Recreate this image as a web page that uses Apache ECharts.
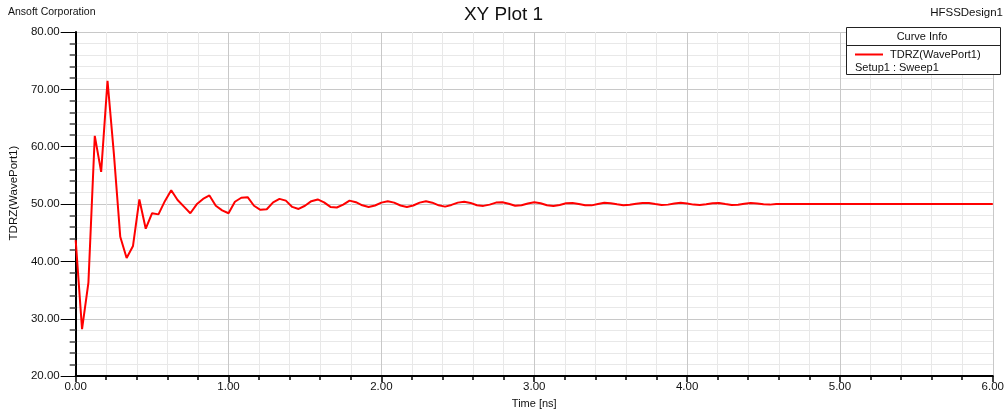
<!DOCTYPE html>
<html>
<head>
<meta charset="utf-8">
<title>XY Plot 1</title>
<script src="https://cdn.jsdelivr.net/npm/echarts@6/dist/echarts.min.js"></script>
<style>
  html, body { margin: 0; padding: 0; background: #fff; overflow: hidden; }
  #chart { width: 1007px; height: 414px; }
</style>
</head>
<body>
<div id="chart"></div>
<script>
// TDR impedance trace, sampled every 1/24 ns from 0 to 6 ns
const seriesName = 'TDRZ(WavePort1)';
const sweepName = 'Setup1 : Sweep1';
const timeStepNs = 1 / 24;
const tdrz = [
  43.7, 28.2, 36.3, 61.9, 55.6, 71.5, 58.75, 44.3, 40.6, 42.7,
  50.8, 45.7, 48.4, 48.2, 50.5, 52.4, 50.7, 49.55, 48.4, 49.95,
  50.9, 51.5, 49.7, 48.9, 48.4, 50.4, 51.1, 51.2, 49.7, 49.0,
  49.1, 50.3, 50.9, 50.6, 49.5, 49.15, 49.7, 50.5, 50.8, 50.3,
  49.5, 49.4, 49.9, 50.6, 50.33, 49.78, 49.5, 49.75, 50.25, 50.5,
  50.25, 49.75, 49.5, 49.75, 50.25, 50.5, 50.24, 49.78, 49.55, 49.85,
  50.25, 50.4, 50.2, 49.8, 49.68, 49.9, 50.25, 50.32, 50.05, 49.7,
  49.8, 50.1, 50.3, 50.15, 49.8, 49.66, 49.85, 50.15, 50.2, 50.0,
  49.78, 49.77, 50.0, 50.22, 50.15, 49.95, 49.8, 49.88, 50.05, 50.2,
  50.2, 50.0, 49.83, 49.9, 50.1, 50.23, 50.1, 49.9, 49.84, 49.95,
  50.15, 50.18, 50.0, 49.85, 49.88, 50.05, 50.2, 50.1, 49.95, 49.9,
  50.0, 50.0, 50.0, 50.0, 50.0, 50.0, 50.0, 50.0, 50.0, 50.0,
  50.0, 50.0, 50.0, 50.0, 50.0, 50.0, 50.0, 50.0, 50.0, 50.0,
  50.0, 50.0, 50.0, 50.0, 50.0, 50.0, 50.0, 50.0, 50.0, 50.0,
  50.0, 50.0, 50.0, 50.0, 50.0
];
const xRange = { min: 0, max: 6, interval: 1 };
const yRange = { min: 20, max: 80, interval: 10 };

const points = tdrz.map((v, i) => [i * timeStepNs, v]);

const FONT = '"Liberation Sans", Arial, sans-serif';
const chart = echarts.init(document.getElementById('chart'), null, { renderer: 'canvas', width: 1007, height: 414 });

chart.setOption({
  animation: false,
  backgroundColor: '#ffffff',
  textStyle: { fontFamily: FONT },
  title: [
    { text: 'XY Plot 1', left: 'center', top: 0,
      textStyle: { fontFamily: FONT, fontSize: 19, fontWeight: 'normal', color: '#111' } },
    { text: 'Ansoft Corporation', left: 3, top: 2,
      textStyle: { fontFamily: FONT, fontSize: 10.5, fontWeight: 'normal', color: '#111' } },
    { text: 'HFSSDesign1', right: -1, top: 2,
      textStyle: { fontFamily: FONT, fontSize: 11.5, fontWeight: 'normal', color: '#111' } }
  ],
  grid: { left: 73, width: 920, top: 32, height: 352, containLabel: false },
  xAxis: {
    type: 'value',
    min: xRange.min, max: xRange.max, interval: xRange.interval,
    name: 'Time [ns]', nameLocation: 'middle', nameGap: 20,
    nameTextStyle: { fontFamily: FONT, fontSize: 11, color: '#111' },
    axisLine: { show: true, onZero: false, lineStyle: { color: '#000', width: 2 } },
    axisTick: { show: true, length: 6, lineStyle: { color: '#000', width: 1.5 } },
    minorTick: { show: true, splitNumber: 5, length: 4, lineStyle: { color: '#000', width: 1.5 } },
    axisLabel: { fontFamily: FONT, fontSize: 11.5, color: '#111', margin: 5,
      formatter: v => v.toFixed(2) },
    splitLine: { show: true, lineStyle: { color: '#c8c8c8', width: 1 } },
    minorSplitLine: { show: true, lineStyle: { color: '#e8e8e8', width: 1 } }
  },
  yAxis: {
    type: 'value',
    min: yRange.min, max: yRange.max, interval: yRange.interval,
    name: seriesName, nameLocation: 'middle', nameGap: 55, nameRotate: 90,
    nameTextStyle: { fontFamily: FONT, fontSize: 11.5, color: '#111', padding: [0, 0, 0, 22] },
    axisLine: { show: true, onZero: false, lineStyle: { color: '#000', width: 2 } },
    axisTick: { show: true, length: 15, lineStyle: { color: '#000', width: 1 } },
    minorTick: { show: true, splitNumber: 5, length: 6, lineStyle: { color: '#444', width: 1.5 } },
    axisLabel: { fontFamily: FONT, fontSize: 11.5, color: '#111', margin: 16,
      formatter: v => v.toFixed(2) },
    splitLine: { show: true, lineStyle: { color: '#c8c8c8', width: 1 } },
    minorSplitLine: { show: true, lineStyle: { color: '#e8e8e8', width: 1 } }
  },
  series: [{
    name: seriesName,
    type: 'line',
    data: points,
    showSymbol: false,
    smooth: false,
    lineStyle: { color: '#ff0000', width: 2 },
    z: 5
  }],
  graphic: [
    { type: 'rect', z: 100, shape: { x: 846.5, y: 27.5, width: 154, height: 47 },
      style: { fill: '#fff', stroke: '#222', lineWidth: 1 } },
    { type: 'line', z: 101, shape: { x1: 846.5, y1: 45.5, x2: 1000.5, y2: 45.5 },
      style: { stroke: '#222', lineWidth: 1 } },
    { type: 'text', z: 101, x: 922, y: 37,
      style: { text: 'Curve Info', fill: '#111', font: '11px ' + FONT, align: 'center', verticalAlign: 'middle' } },
    { type: 'line', z: 101, shape: { x1: 855, y1: 54.5, x2: 883, y2: 54.5 },
      style: { stroke: '#ff0000', lineWidth: 2 } },
    { type: 'text', z: 101, x: 890, y: 55,
      style: { text: seriesName, fill: '#111', font: '11px ' + FONT, align: 'left', verticalAlign: 'middle' } },
    { type: 'text', z: 101, x: 855, y: 68,
      style: { text: sweepName, fill: '#111', font: '11px ' + FONT, align: 'left', verticalAlign: 'middle' } }
  ]
});
</script>
</body>
</html>
